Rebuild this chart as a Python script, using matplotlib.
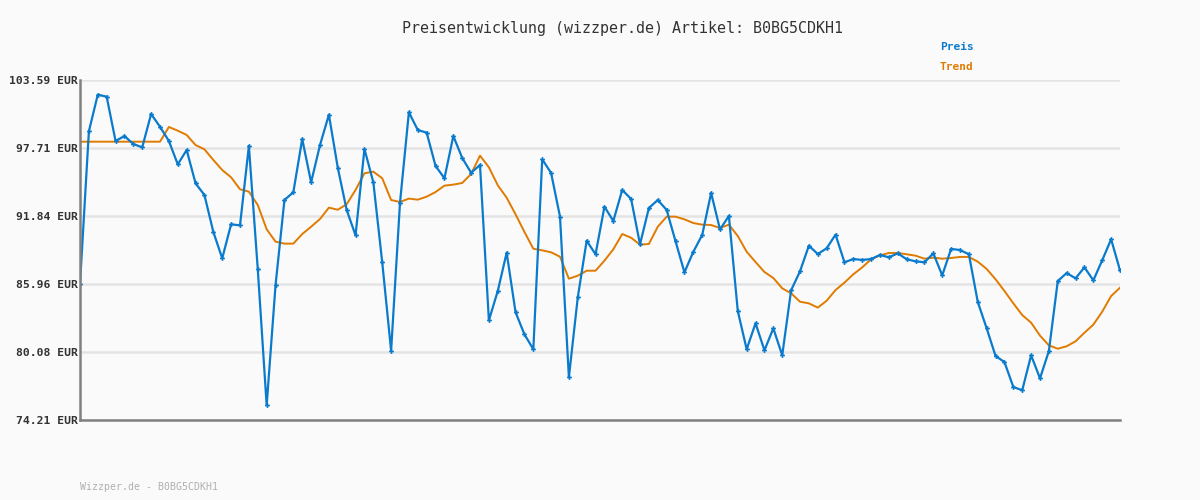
import numpy as np
import matplotlib
matplotlib.use("Agg")
import matplotlib.pyplot as plt

# ------------------------- data -------------------------
preis = [
    85.96, 99.16, 102.32, 102.15, 98.32, 98.75, 98.06, 97.77, 100.65, 99.55,
    98.32, 96.30, 97.54, 94.66, 93.65, 90.46, 88.18, 91.12, 91.03, 97.89,
    87.23, 75.48, 85.88, 93.22, 93.89, 98.49, 94.75, 97.97, 100.59, 96.01,
    92.36, 90.17, 97.63, 94.75, 87.84, 80.20, 92.99, 100.80, 99.27, 99.04,
    96.16, 95.10, 98.75, 96.85, 95.58, 96.24, 82.82, 85.36, 88.67, 83.52,
    81.61, 80.32, 96.74, 95.55, 91.78, 77.90, 84.81, 89.70, 88.53, 92.64,
    91.41, 94.09, 93.31, 89.39, 92.53, 93.22, 92.36, 89.65, 86.97, 88.75,
    90.20, 93.83, 90.68, 91.84, 83.63, 80.32, 82.57, 80.23, 82.13, 79.80,
    85.42, 87.06, 89.27, 88.55, 89.05, 90.23, 87.84, 88.12, 88.04, 88.12,
    88.47, 88.27, 88.61, 88.10, 87.92, 87.84, 88.61, 86.71, 88.99, 88.90,
    88.53, 84.41, 82.13, 79.74, 79.22, 77.06, 76.78, 79.80, 77.81, 80.17,
    86.22, 86.91, 86.45, 87.40, 86.28, 88.01, 89.83, 87.15,
]
trend = [
    98.26, 98.26, 98.26, 98.26, 98.26, 98.26, 98.26, 98.26, 98.26, 98.26,
    99.53, 99.21, 98.84, 97.97, 97.60, 96.68, 95.81, 95.18, 94.15, 93.94,
    92.79, 90.69, 89.62, 89.45, 89.45, 90.28, 90.91, 91.58, 92.56, 92.38,
    92.85, 94.09, 95.53, 95.67, 95.10, 93.22, 93.05, 93.34, 93.25, 93.51,
    93.91, 94.46, 94.55, 94.69, 95.47, 97.05, 96.05, 94.49, 93.42, 91.98,
    90.46, 89.01, 88.87, 88.70, 88.32, 86.42, 86.68, 87.11, 87.11, 87.98,
    88.96, 90.28, 89.96, 89.36, 89.42, 90.91, 91.78, 91.78, 91.55, 91.23,
    91.09, 91.06, 90.80, 91.09, 90.11, 88.75, 87.86, 87.00, 86.48, 85.59,
    85.16, 84.43, 84.29, 83.92, 84.52, 85.44, 86.08, 86.80, 87.40, 88.10,
    88.44, 88.64, 88.64, 88.53, 88.41, 88.15, 88.24, 88.15, 88.21, 88.30,
    88.30, 87.89, 87.26, 86.37, 85.36, 84.29, 83.28, 82.62, 81.50, 80.66,
    80.37, 80.58, 81.01, 81.75, 82.45, 83.57, 84.92, 85.64,
]
yticks = [74.21, 80.08, 85.96, 91.84, 97.71, 103.59]
ytick_labels = [f"{v:.2f} EUR" for v in yticks]

TITLE = "Preisentwicklung (wizzper.de) Artikel: B0BG5CDKH1"
FOOTER = "Wizzper.de - B0BG5CDKH1"

BG = "#fafafa"
BLUE = "#0a7bcc"
ORANGE = "#e07b00"
MONO = ["DejaVu Sans Mono"]

# ------------------------- plot -------------------------
fig = plt.figure(figsize=(12, 5), dpi=100, facecolor=BG)
ax = fig.add_axes([80 / 1200, 80 / 500, 1040 / 1200, 340 / 500], facecolor=BG)

x = np.arange(len(preis))
ax.plot(x, trend, color=ORANGE, lw=1.4, zorder=3)
ax.plot(x, preis, color=BLUE, lw=1.6, marker="P", markersize=3.5,
        markeredgewidth=0, zorder=4)

ax.set_xlim(0, len(preis) - 1)
ax.set_ylim(yticks[0], yticks[-1])
ax.set_yticks(yticks)
ax.set_yticklabels(ytick_labels, family=MONO, fontsize=8.2,
                   fontweight="bold", color="#333333")
ax.set_xticks([])
ax.tick_params(axis="y", length=0, pad=1.5)
ax.grid(axis="y", color="#e4e4e4", lw=1.8, zorder=0)

for side in ("top", "right"):
    ax.spines[side].set_visible(False)
for side in ("left", "bottom"):
    ax.spines[side].set_color("#808080")
    ax.spines[side].set_linewidth(1.8)
    ax.spines[side].set_zorder(5)

fig.text(623 / 1200, 1 - 28 / 500, TITLE, family=MONO, fontsize=10.8,
         color="#333333", ha="center", va="center")
fig.text(940 / 1200, 1 - 47 / 500, "Preis", family=MONO, fontsize=8,
         fontweight="bold", color=BLUE, ha="left", va="center")
fig.text(940 / 1200, 1 - 67 / 500, "Trend", family=MONO, fontsize=8,
         fontweight="bold", color=ORANGE, ha="left", va="center")
fig.text(80 / 1200, 1 - 487 / 500, FOOTER, family=MONO, fontsize=7.1,
         color="#b0b0b0", ha="left", va="center")

fig.savefig("out.png", dpi=100, facecolor=BG)
